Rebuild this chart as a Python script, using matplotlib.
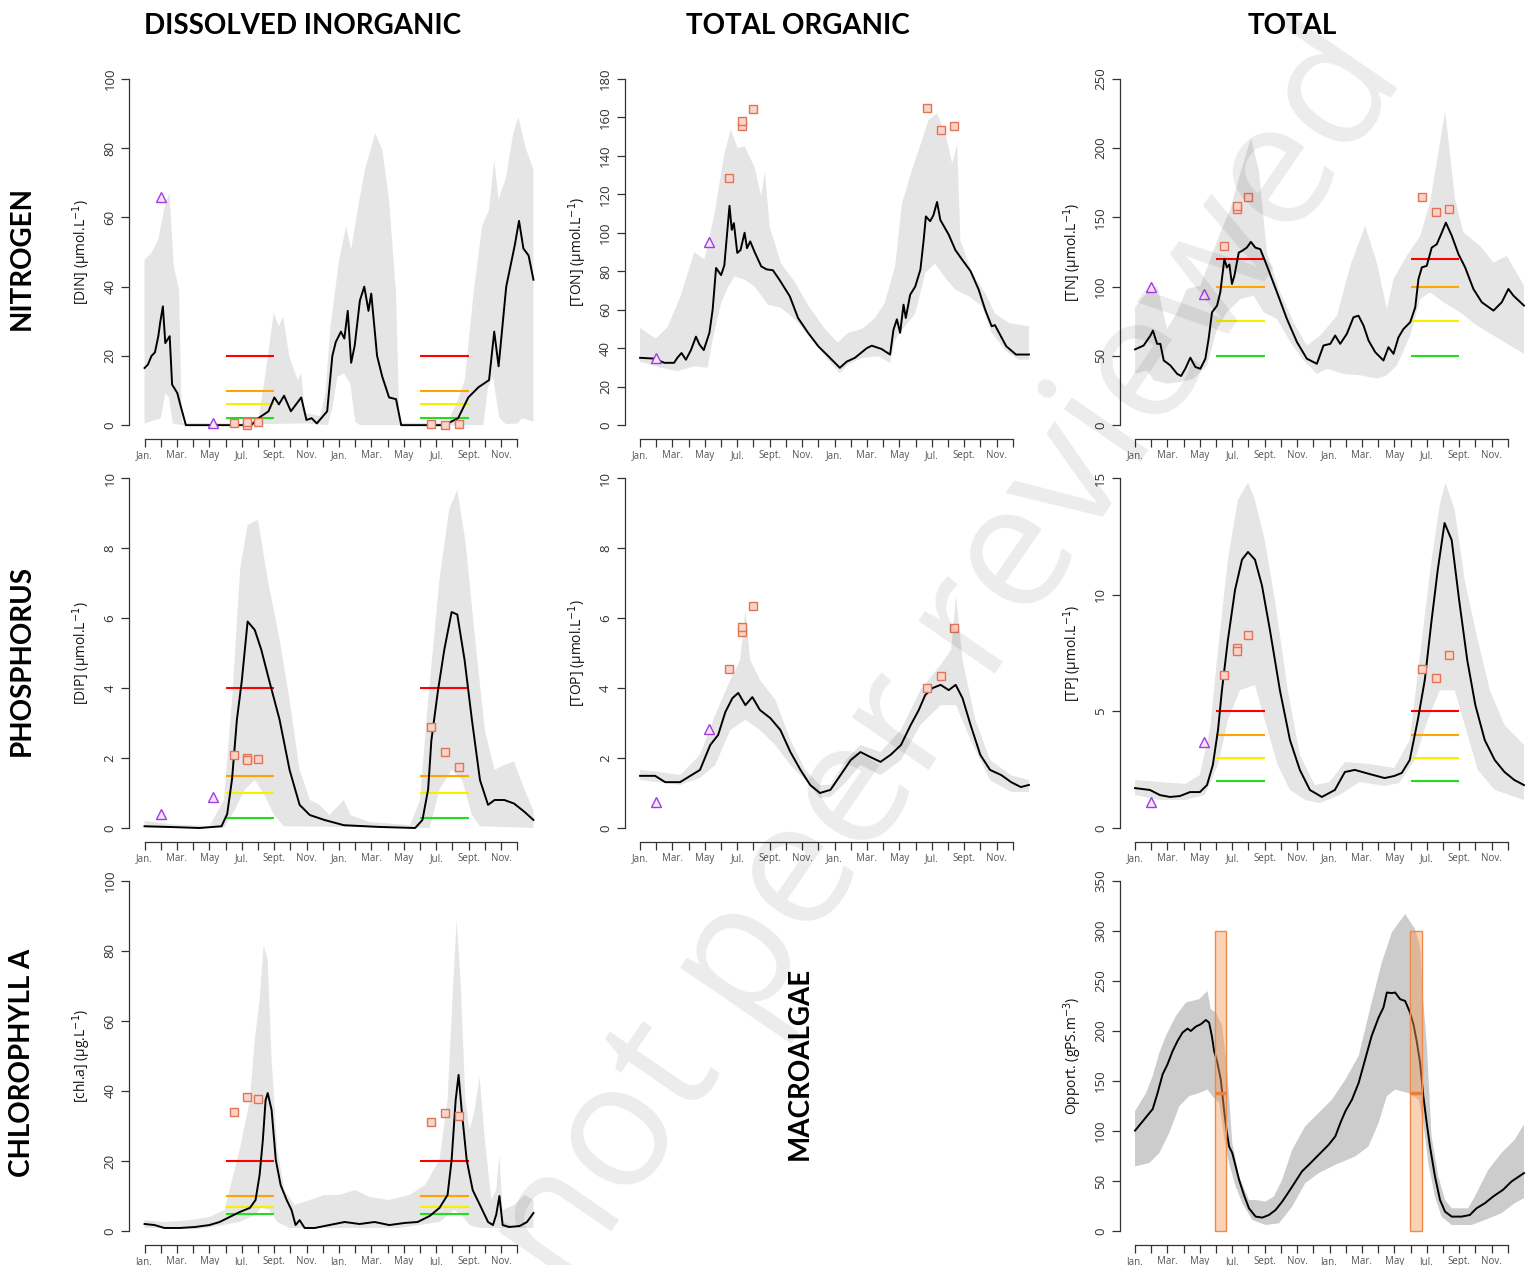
import numpy as np
import matplotlib.pyplot as plt
from matplotlib.patches import Rectangle

plt.rcParams['font.family'] = ['Open Sans', 'DejaVu Sans']

# x positions are in months from January of the first year (0 .. 24)
month_labels = ['Jan.', '', 'Mar.', '', 'May', '', 'Jul.', '', 'Sept.', '', 'Nov.', ''] * 2

# sampling campaigns (month, value)
# ---------------- DIN ----------------
din_med = [(0, 16.5), (0.21, 17.5), (0.43, 20), (0.64, 21), (0.85, 25.7), (0.96, 29.5), (1.13, 34.3),
           (1.28, 23.7), (1.55, 25.7), (1.7, 11.7), (2.02, 9.3), (2.23, 5.5), (2.55, 0), (6.59, 0),
           (7.02, 2), (7.65, 4), (8.01, 8), (8.29, 6), (8.61, 8.5), (9.03, 4), (9.67, 8), (9.99, 1.5),
           (10.31, 2), (10.63, 0.5), (11.27, 4), (11.59, 20), (11.8, 24), (12.12, 27), (12.33, 25),
           (12.54, 33), (12.75, 18), (12.97, 23), (13.29, 36), (13.56, 40), (13.82, 33), (13.99, 38),
           (14.35, 20), (14.67, 14), (15.09, 8), (15.52, 7.5), (15.84, 0), (18.5, 0), (19.35, 2),
           (19.98, 8), (20.62, 11), (21.26, 13), (21.58, 27), (21.85, 17), (22.32, 40), (22.85, 52),
           (23.11, 59), (23.38, 51), (23.7, 49), (24.0, 42)]
din_up = [(0, 47.8), (0.43, 49.7), (0.85, 53.6), (1.28, 64), (1.53, 67), (1.81, 45.9), (2.13, 39),
          (2.3, 0.7), (5.95, 0.5), (7.02, 1.6), (7.44, 14), (7.97, 32.4), (8.29, 28.6), (8.55, 31.4),
          (8.93, 19.9), (9.46, 13), (9.67, 15), (9.89, 3.6), (10.84, 2.6), (11.16, 9.3), (11.48, 28.6),
          (12.01, 47.8), (12.44, 57.4), (12.75, 50.7), (13.18, 63), (13.6, 73.8), (14.24, 84.3),
          (14.67, 79.6), (15.09, 65), (15.52, 38), (15.73, 0.7), (18.71, 0.7), (19.35, 7.4),
          (19.77, 13.2), (20.3, 38), (20.83, 57.4), (21.26, 62.2), (21.58, 76.6), (21.85, 65),
          (22.32, 71.8), (22.75, 84.3), (23.07, 89), (23.5, 80.3), (24.0, 73.8)]
din_lo = [(0, 0.5), (1.0, 2), (1.28, 9.3), (1.5, 8), (1.75, 0.5), (2.3, 0), (7.0, 0.3), (9.9, 0.5),
          (11.3, 0), (11.6, 5), (11.9, 14), (12.3, 15), (12.7, 12), (13.0, 1), (13.3, 0), (20.9, 0),
          (21.2, 11), (21.5, 14), (21.9, 2), (22.3, 0.3), (23.0, 0.5), (23.3, 2), (24.0, 1)]
din_sq = [(5.5, 0.5), (6.3, 0), (6.3, 1), (7.0, 1), (17.7, 0.3), (18.55, 0), (19.4, 0.2)]
din_tri = [(1.0, 66), (4.25, 0.5)]
din_thr = [20, 10, 6, 2]

# ---------------- TON ----------------
ton_med = [(0, 35), (0.87, 34.6), (1.5, 32.4), (2.1, 32.4), (2.3, 35), (2.56, 37.5), (2.83, 34),
           (3.14, 39), (3.45, 46), (3.66, 42), (3.93, 39), (4.28, 48), (4.48, 60), (4.69, 81.7),
           (5.0, 78), (5.2, 83), (5.52, 114), (5.66, 101.5), (5.79, 105), (6.0, 89.5), (6.2, 91),
           (6.45, 100), (6.6, 92), (6.8, 95.5), (7.07, 90), (7.48, 82.5), (7.8, 81), (8.2, 80.5),
           (8.6, 75.6), (9.24, 67), (9.75, 55.7), (10.37, 48), (11.0, 41), (11.6, 36), (12.33, 29.8),
           (12.75, 33), (13.26, 35), (13.99, 40), (14.3, 41.3), (14.9, 39.6), (15.43, 36.7),
           (15.64, 49.6), (15.85, 55), (16.05, 48), (16.26, 62.6), (16.4, 55.7), (16.67, 67.8),
           (16.98, 72), (17.3, 80.8), (17.5, 96), (17.64, 108.5), (17.9, 106), (18.1, 109),
           (18.33, 116), (18.53, 106.7), (19.05, 99), (19.46, 91), (19.88, 86), (20.4, 80),
           (20.9, 70.4), (21.3, 60), (21.7, 51.4), (21.9, 52), (22.6, 41), (23.2, 36.7), (24.0, 36.7)]
ton_up = [(0, 50.5), (0.97, 45), (1.7, 51), (2.5, 67), (3.35, 90), (3.97, 86), (4.6, 110), (5.2, 141),
          (5.6, 153.5), (6.03, 144), (6.45, 145), (7.07, 134), (7.48, 119), (7.7, 132), (8.0, 103),
          (8.7, 84), (9.5, 75), (10.4, 62), (11.4, 50), (12.2, 43), (12.85, 48), (13.7, 50),
          (14.5, 55.7), (15.1, 63.5), (15.74, 82.5), (16.16, 115), (16.78, 132.7), (17.4, 148),
          (17.8, 158.7), (18.33, 162), (18.84, 151.7), (19.26, 136), (19.57, 145.7), (19.77, 96),
          (20.5, 79), (21.3, 68.7), (21.9, 58), (22.8, 53), (24.0, 51.4)]
ton_lo = [(0, 33), (1.28, 29.8), (2.3, 28), (3.35, 30.6), (4.17, 29.8), (4.48, 44.5), (5.0, 63.5),
          (5.4, 71.3), (5.83, 77.3), (6.45, 75.6), (7.07, 72), (7.9, 62.6), (8.7, 61), (9.55, 55),
          (10.6, 44.5), (11.6, 34), (12.33, 27), (12.85, 31.5), (13.7, 35), (14.7, 35.8),
          (15.43, 32.4), (15.74, 44.5), (16.36, 51.4), (16.98, 58), (17.6, 79), (18.2, 84),
          (18.84, 76.5), (19.46, 70.4), (20.3, 67), (21.1, 61.8), (21.7, 48), (22.6, 38.4),
          (23.4, 34), (24.0, 34)]
ton_sq = [(5.48, 128.4), (6.3, 155.7), (6.3, 158), (7.0, 164.5), (17.7, 164.7), (18.55, 153.6),
          (19.4, 155.7)]
ton_tri = [(1.0, 35), (4.24, 95)]

# ---------------- TN ----------------
tn_med = [(0, 54.7), (0.53, 57.5), (0.95, 64.7), (1.1, 68.3), (1.36, 58.7), (1.56, 58.7), (1.77, 46.7),
          (2.18, 43.1), (2.6, 37), (2.84, 35.5), (3.1, 40.7), (3.41, 48.7), (3.72, 42), (4.03, 40.7),
          (4.34, 48), (4.54, 62.3), (4.75, 81.5), (5.06, 86.3), (5.26, 95.9), (5.51, 119.8),
          (5.67, 113.9), (5.82, 116), (5.98, 101.9), (6.13, 107.9), (6.4, 124.6), (6.6, 125.8),
          (6.9, 128.2), (7.15, 132.3), (7.42, 128.2), (7.73, 127), (8.14, 115), (8.76, 95.9),
          (9.37, 76.7), (9.99, 60), (10.6, 48), (11.22, 44.3), (11.63, 57.5), (12.05, 58.7),
          (12.35, 64.7), (12.66, 58.7), (13.07, 65.9), (13.48, 77.9), (13.79, 79), (14.1, 71.9),
          (14.41, 61.1), (14.82, 52.7), (15.33, 46.7), (15.64, 56.3), (15.95, 51.5), (16.26, 63.5),
          (16.57, 69.5), (16.98, 74.3), (17.29, 85), (17.49, 105.5), (17.7, 113.9), (18.0, 115),
          (18.31, 128.2), (18.62, 130.6), (18.93, 139), (19.18, 146.2), (19.55, 136.6),
          (19.96, 123.4), (20.37, 113.9), (20.88, 98.3), (21.4, 88.7), (22.12, 82.7), (22.63, 88.7),
          (23.04, 98.3), (23.35, 93.5), (24.0, 86.3)]
tn_up = [(0, 85), (0.74, 95.9), (1.36, 100.7), (1.97, 69.5), (2.6, 81.5), (3.2, 98.3), (4.03, 100.7),
         (4.65, 119.8), (5.26, 139), (5.88, 155.8), (6.5, 182), (7.15, 207), (7.63, 184.6),
         (8.14, 124.6), (8.96, 95.9), (9.78, 74.3), (10.6, 57.5), (11.43, 64.7), (12.46, 79),
         (13.28, 115), (14.2, 143.8), (14.92, 117.4), (15.54, 83.9), (15.95, 105.5), (16.77, 122.2),
         (17.6, 136.6), (18.2, 160.6), (19.14, 226.5), (19.75, 163), (20.27, 139), (21.3, 129.4),
         (22.12, 117.4), (22.94, 122.2), (24.0, 100.7)]
tn_lo = [(0, 37), (0.74, 39.5), (1.15, 32.4), (1.97, 30), (2.8, 31.2), (3.62, 33.6), (4.44, 43.1),
         (5.06, 69.5), (5.67, 81.5), (6.5, 91), (7.32, 93.5), (7.93, 81.5), (8.76, 76.7), (9.58, 60),
         (10.4, 46.7), (11.22, 37), (11.84, 40.7), (12.87, 37), (13.9, 36), (14.92, 33.6),
         (15.54, 36), (16.16, 43.1), (16.98, 64.7), (17.6, 91), (18.2, 95.9), (19.04, 88.7),
         (20.06, 81.5), (21.1, 71.9), (22.12, 64.7), (23.15, 57.5), (24.0, 51.5)]
tn_sq = [(5.5, 129), (6.3, 156), (6.3, 158), (7.0, 165), (17.7, 165), (18.55, 154), (19.4, 156)]
tn_tri = [(1.0, 100), (4.25, 95)]
tn_thr = [120, 100, 75, 50]

# ---------------- DIP ----------------
dip_med = [(0, 0.05), (1.5, 0.03), (3.4, 0), (4.75, 0.05), (5.1, 0.4), (5.4, 1.4), (5.7, 3.1),
           (6.0, 4.2), (6.36, 5.9), (6.8, 5.66), (7.2, 5.1), (7.7, 4.2), (8.33, 3.1), (8.95, 1.66),
           (9.57, 0.66), (10.2, 0.37), (11.1, 0.23), (12.3, 0.08), (14.5, 0.03), (16.7, 0),
           (17.15, 0.23), (17.5, 1.1), (17.7, 2.5), (18.1, 3.9), (18.5, 5.1), (18.95, 6.17),
           (19.3, 6.1), (19.75, 4.8), (20.2, 3.1), (20.7, 1.37), (21.2, 0.66), (21.6, 0.8),
           (22.2, 0.8), (22.8, 0.7), (23.45, 0.46), (24.0, 0.23)]
dip_up = [(0, 0.2), (0.9, 0.15), (1.8, 0.1), (4.0, 0.05), (4.9, 0.8), (5.4, 3.66), (5.9, 7.4),
          (6.36, 8.66), (7.0, 8.8), (7.6, 7.1), (8.33, 5.4), (8.95, 3.66), (9.57, 1.66), (10.2, 0.8),
          (10.8, 0.66), (11.4, 0.37), (12.3, 0.8), (12.7, 0.37), (13.9, 0.17), (16.4, 0.08),
          (17.0, 0.8), (17.5, 3.66), (18.2, 7.1), (18.8, 9.1), (19.3, 9.66), (19.8, 8.2), (20.4, 5.4),
          (21.0, 2.8), (21.6, 1.66), (22.2, 1.8), (22.8, 1.9), (23.45, 1.1), (24.0, 0.5)]
dip_lo = [(0, 0), (4.9, 0), (5.55, 0.5), (6.2, 1.1), (6.8, 1.37), (7.4, 0.94), (8.0, 0.37), (8.6, 0.05),
          (17.6, 0), (18.2, 1.1), (18.95, 1.66), (19.6, 1.37), (20.2, 0.37), (20.7, 0.05), (24.0, 0)]
dip_sq = [(5.5, 2.08), (6.3, 2.0), (6.3, 1.94), (7.0, 1.97), (17.7, 2.88), (18.55, 2.17), (19.4, 1.74)]
dip_tri = [(1.0, 0.4), (4.25, 0.88)]
dip_thr = [4, 1.5, 1, 0.3]

# ---------------- TOP ----------------
top_med = [(0, 1.49), (0.93, 1.49), (1.55, 1.31), (2.47, 1.31), (3.1, 1.49), (3.7, 1.66), (4.33, 2.37),
           (4.82, 2.66), (5.26, 3.31), (5.7, 3.71), (6.06, 3.86), (6.5, 3.51), (6.93, 3.74),
           (7.4, 3.37), (8.04, 3.14), (8.66, 2.8), (9.28, 2.17), (9.9, 1.66), (10.5, 1.23),
           (11.1, 1.0), (11.75, 1.09), (12.37, 1.51), (13.0, 1.94), (13.6, 2.17), (14.2, 2.03),
           (14.84, 1.89), (15.46, 2.09), (16.1, 2.37), (16.7, 2.94), (17.2, 3.37), (17.6, 3.8),
           (18.06, 4.0), (18.55, 4.09), (19.05, 3.94), (19.48, 4.09), (19.9, 3.71), (20.4, 2.94),
           (21.0, 2.09), (21.6, 1.66), (22.3, 1.51), (22.9, 1.31), (23.5, 1.17), (24.0, 1.23)]
top_up = [(0, 1.66), (1.24, 1.6), (2.47, 1.51), (3.7, 2.09), (4.64, 3.23), (5.57, 4.23), (6.18, 4.8),
          (6.5, 6.23), (6.8, 4.8), (7.4, 4.23), (8.35, 3.66), (9.28, 2.51), (10.2, 1.66), (11.1, 1.23),
          (11.75, 1.23), (12.7, 1.94), (13.6, 2.37), (14.84, 2.17), (16.1, 2.8), (17.3, 3.94),
          (18.55, 4.66), (19.2, 5.09), (19.5, 6.66), (19.9, 4.8), (20.7, 3.09), (21.6, 1.94),
          (22.9, 1.51), (24.0, 1.37)]
top_lo = [(0, 1.37), (2.47, 1.23), (3.7, 1.43), (4.64, 1.8), (5.57, 2.8), (6.5, 3.09), (7.4, 2.8),
          (8.35, 2.37), (9.28, 1.8), (10.2, 1.37), (11.1, 0.86), (11.75, 0.89), (12.7, 1.31),
          (13.6, 1.8), (14.84, 1.51), (16.1, 1.94), (17.3, 2.94), (18.55, 3.51), (19.5, 3.51),
          (20.4, 2.51), (21.6, 1.37), (22.9, 1.03), (24.0, 1.03)]
top_sq = [(5.5, 4.54), (6.3, 5.6), (6.3, 5.75), (7.0, 6.34), (17.7, 4.0), (18.55, 4.34), (19.4, 5.71)]
top_tri = [(1.0, 0.74), (4.25, 2.83)]

# ---------------- TP ----------------
tp_med = [(0, 1.71), (0.92, 1.63), (1.54, 1.41), (2.16, 1.33), (2.77, 1.37), (3.39, 1.54), (4.0, 1.54),
          (4.44, 1.84), (4.8, 2.7), (5.12, 4.2), (5.36, 5.9), (5.73, 8.06), (6.17, 10.2), (6.6, 11.5),
          (6.97, 11.83), (7.4, 11.5), (7.83, 10.4), (8.32, 8.5), (8.94, 5.9), (9.56, 3.77),
          (10.17, 2.49), (10.79, 1.63), (11.53, 1.33), (12.33, 1.63), (12.95, 2.4), (13.56, 2.49),
          (14.49, 2.31), (15.4, 2.14), (16.0, 2.23), (16.46, 2.36), (16.95, 2.91), (17.45, 4.63),
          (17.88, 6.34), (18.3, 8.9), (18.68, 11.06), (19.1, 13.07), (19.54, 12.34), (20.0, 9.77),
          (20.5, 7.2), (21.0, 5.27), (21.58, 3.77), (22.2, 2.91), (22.8, 2.4), (23.4, 2.06), (24.0, 1.84)]
tp_up = [(0, 2.06), (1.54, 1.97), (3.1, 1.89), (4.0, 2.27), (4.62, 4.2), (5.12, 7.63), (5.73, 11.5),
         (6.35, 14.06), (6.97, 14.8), (7.4, 14.06), (8.0, 12.34), (8.63, 9.77), (9.43, 5.9),
         (10.17, 3.13), (11.1, 1.84), (12.0, 1.97), (12.95, 2.83), (14.49, 2.74), (16.0, 2.57),
         (16.95, 3.77), (17.7, 8.06), (18.3, 11.5), (18.8, 13.84), (19.16, 14.8), (19.73, 13.63),
         (20.35, 10.6), (21.15, 8.06), (21.9, 5.9), (22.8, 4.41), (24.0, 3.56)]
tp_lo = [(0, 1.41), (1.54, 1.2), (3.1, 1.2), (4.3, 1.41), (5.12, 2.7), (5.73, 4.63), (6.47, 5.9),
         (7.4, 6.13), (8.0, 4.63), (8.8, 2.7), (9.56, 1.63), (10.5, 1.2), (11.4, 1.07), (12.6, 1.41),
         (13.87, 1.97), (15.4, 1.8), (16.3, 1.93), (17.26, 2.91), (18.06, 4.63), (18.8, 5.9),
         (19.73, 5.9), (20.35, 4.41), (21.15, 2.49), (22.2, 1.63), (24.0, 1.2)]
tp_sq = [(5.5, 6.56), (6.3, 7.7), (6.3, 7.6), (7.0, 8.27), (17.7, 6.8), (18.55, 6.43), (19.4, 7.4)]
tp_tri = [(1.0, 1.1), (4.25, 3.69)]
tp_thr = [5, 4, 3, 2]

# ---------------- Chlorophyll a ----------------
chl_med = [(0, 2), (0.62, 1.7), (1.23, 0.86), (2.16, 0.86), (3.1, 1.14), (4.0, 1.7), (4.63, 2.57),
           (5.12, 3.7), (5.86, 5.4), (6.5, 6.6), (6.85, 8.86), (7.1, 16), (7.3, 26), (7.47, 37.4),
           (7.6, 39.4), (7.84, 34.6), (8.1, 20.3), (8.4, 13.1), (8.77, 8.86), (9.07, 6), (9.32, 1.7),
           (9.57, 3.1), (9.88, 0.86), (10.5, 0.86), (11.4, 1.7), (12.35, 2.57), (13.27, 2),
           (14.2, 2.57), (15.1, 1.7), (16.05, 2.3), (16.85, 2.57), (17.6, 4.3), (18.2, 6.6),
           (18.7, 10.3), (18.95, 20.3), (19.2, 37.4), (19.38, 44.6), (19.57, 34.6), (19.88, 20.3),
           (20.25, 11.7), (20.7, 7.4), (21.2, 2.57), (21.5, 1.7), (21.7, 4.6), (21.9, 10), (22.1, 1.7),
           (22.5, 1.14), (23.15, 1.43), (23.6, 2.57), (24.0, 5.14)]
chl_up = [(0, 3.1), (1.23, 2.57), (2.8, 3.1), (4.0, 4), (4.94, 6), (5.86, 23), (6.5, 37.4), (6.8, 54.6),
          (7.1, 66), (7.35, 81.7), (7.6, 77.4), (7.84, 48.9), (8.2, 23), (8.64, 11.7), (9.26, 7.4),
          (10.2, 8.86), (11.1, 10.3), (12.0, 10.3), (13.0, 11.7), (13.9, 9.7), (15.1, 8.86),
          (16.36, 10.3), (17.3, 13.1), (18.2, 20.3), (18.7, 37.4), (19.0, 66), (19.26, 88.9),
          (19.5, 71.7), (19.8, 37.4), (20.06, 28.9), (20.37, 34.6), (20.68, 44), (21.0, 26),
          (21.4, 8.86), (21.7, 11.7), (21.9, 21.7), (22.1, 6), (22.8, 7.4), (23.45, 10.3), (24.0, 8.86)]
chl_lo = [(0, 0.86), (3.4, 0.57), (5.86, 2.57), (6.8, 4.6), (7.2, 6.6), (7.7, 6), (8.2, 2.57),
          (8.95, 0.86), (15.7, 0.86), (18.2, 2.57), (19.1, 6), (19.57, 4.6), (20.06, 1.7), (20.7, 0.86),
          (24.0, 0.86)]
chl_sq = [(5.5, 34), (6.3, 38.3), (7.0, 37.6), (17.7, 31.1), (18.55, 33.7), (19.4, 32.9)]
chl_thr = [20, 10, 7, 5]

# ---------------- Opportunistic macroalgae ----------------
mac_med = [(0, 100.4), (0.47, 109.7), (1.09, 122), (1.39, 138), (1.7, 156.6), (2.0, 166.6), (2.32, 180),
           (2.62, 190), (2.93, 198.4), (3.24, 202.4), (3.44, 200), (3.75, 204.4), (4.06, 206.8),
           (4.37, 211), (4.57, 208.4), (4.74, 195), (4.88, 180), (5.08, 168.3), (5.29, 151.5),
           (5.49, 121.4), (5.64, 101.4), (5.8, 84.6), (6.0, 78), (6.21, 64.6), (6.42, 51.2),
           (6.72, 36.1), (7.03, 22.7), (7.44, 14.4), (7.85, 13.4), (8.26, 16), (8.67, 21), (9.08, 29.4),
           (9.5, 39.5), (9.9, 49.5), (10.3, 59.6), (10.72, 66.2), (11.13, 72.9), (11.54, 79.6),
           (11.95, 86.3), (12.36, 94.7), (12.67, 108), (12.98, 119.8), (13.39, 131.5), (13.8, 148.2),
           (14.2, 171.6), (14.6, 195), (15.03, 213.5), (15.33, 223.5), (15.54, 238.5), (15.85, 237.9),
           (16.05, 238.5), (16.36, 231.8), (16.67, 230), (16.97, 218.5), (17.18, 206.8), (17.38, 190),
           (17.59, 168.3), (17.79, 134.8), (18.0, 108), (18.2, 84.6), (18.51, 54.5), (18.82, 31.1),
           (19.13, 19.4), (19.54, 14.4), (20.15, 14.4), (20.66, 16), (21.07, 22.7), (21.59, 27.8),
           (22.1, 34.5), (22.71, 41.2), (23.23, 49.5), (24.0, 57.9)]
mac_up = [(0, 119.8), (0.68, 138), (1.09, 155), (1.5, 178.3), (1.9, 195), (2.52, 215), (3.14, 228.5),
          (3.96, 231.8), (4.47, 240), (4.67, 221.8), (4.98, 218.5), (5.39, 205), (5.7, 158), (6.0, 88),
          (6.42, 54.5), (7.03, 31), (7.44, 31), (8.06, 29.4), (8.57, 34.5), (9.08, 51.2), (9.7, 81.3),
          (10.5, 104.7), (11.54, 121.4), (12.16, 131.5), (12.98, 151.5), (13.8, 175), (14.6, 228.5),
          (15.23, 268.6), (15.85, 298.7), (16.67, 317), (17.28, 302), (17.59, 285.4), (17.79, 228.5),
          (18.0, 188.4), (18.3, 94.7), (18.72, 54.5), (19.13, 31), (19.54, 22.7), (20.56, 22.7),
          (20.97, 34.5), (21.8, 61.2), (22.61, 78), (23.43, 91.3), (24.0, 106.4)]
mac_lo = [(0, 64.6), (0.88, 68), (1.5, 78), (2.11, 98), (2.73, 124.8), (3.34, 134.8), (3.96, 138),
          (4.47, 141.5), (4.78, 134.8), (5.19, 128), (5.49, 94.7), (5.8, 68), (6.21, 44.5), (6.62, 27.8),
          (7.24, 11), (8.06, 6), (8.88, 7.7), (9.7, 24.4), (10.5, 47.8), (11.34, 57.9), (12.36, 66.2),
          (13.59, 74.6), (14.41, 84.6), (15.03, 108), (15.54, 134.8), (16.05, 141.5), (16.87, 138),
          (17.49, 131.5), (17.79, 108), (18.1, 68), (18.51, 34.5), (18.92, 14.4), (19.54, 6),
          (20.77, 6), (21.59, 11), (22.61, 17.7), (23.43, 27.8), (24.0, 32.8)]
mac_bar_start = [4.92, 16.97]
mac_bar_end = [5.64, 17.73]
mac_bar_top = 300
mac_bar_mid = 138

thr_colors = ['#ff0000', '#ffa500', '#f5f000', '#22dd22']
thr_span = [(5, 8), (17, 20)]

W, H = 1526, 1265
fig = plt.figure(figsize=(W / 100, H / 100), dpi=100)

col_left = [129, 624.5, 1119.5]
row_top = [65, 464, 867]
row_bot = [439, 842, 1245]
ax_w = 420


def make_ax(r, c):
    return fig.add_axes([col_left[c] / W, 1 - row_bot[r] / H, ax_w / W, (row_bot[r] - row_top[r]) / H])


def style_axes(ax, ymax, ystep, ylabel):
    ax.set_xlim(-0.96, 24.96)
    ax.set_ylim(-0.04 * ymax, 1.04 * ymax)
    for s in ('top', 'right'):
        ax.spines[s].set_visible(False)
    for s in ('left', 'bottom'):
        ax.spines[s].set_color('#333333')
        ax.spines[s].set_linewidth(0.9)
    ax.spines['left'].set_bounds(0, ymax)
    ax.spines['bottom'].set_bounds(0, 23)
    ax.set_xticks(np.arange(24))
    ax.set_xticklabels(month_labels)
    ax.set_yticks(np.arange(0, ymax + 1e-9, ystep))
    ax.tick_params(direction='out', length=6, width=0.9, color='#333333')
    ax.tick_params(axis='x', labelsize=7, labelcolor='#555555', pad=2)
    ax.tick_params(axis='y', labelsize=9.5, labelcolor='#333333', labelrotation=90, pad=3)
    for t in ax.get_yticklabels():
        t.set_va('center')
    ax.set_ylabel(ylabel, fontsize=10, color='#111111')
    ax.yaxis.set_label_coords(-0.085, 0.5)


def panel(ax, med, up, lo, ymax, ystep, ylabel, thr=None, sq=None, tri=None, band='#e5e5e5'):
    xu, yu = np.array(up).T
    xl, yl = np.array(lo).T
    ax.fill(np.r_[xu, xl[::-1]], np.r_[yu, yl[::-1]], color=band, lw=0, zorder=1)
    if thr:
        for v, col in zip(thr, thr_colors):
            for a, b in thr_span:
                ax.hlines(v, a, b, color=col, lw=1.5, zorder=2)
    xm, ym = np.array(med).T
    ax.plot(xm, ym, color='black', lw=1.4, zorder=3)
    if sq:
        xs, ys = np.array(sq).T
        ax.plot(xs, ys, 's', ms=5.5, mfc='#fbd3c8', mec='#e07458', mew=1, zorder=4)
    if tri:
        xt, yt = np.array(tri).T
        ax.plot(xt, yt, '^', ms=7, mfc='#f4e6fb', mec='#a43be0', mew=1, zorder=4)
    style_axes(ax, ymax, ystep, ylabel)


unit = ' (µmol.L$^{-1}$)'
panel(make_ax(0, 0), din_med, din_up, din_lo, 100, 20, '[DIN]' + unit, din_thr, din_sq, din_tri)
panel(make_ax(0, 1), ton_med, ton_up, ton_lo, 180, 20, '[TON]' + unit, None, ton_sq, ton_tri)
panel(make_ax(0, 2), tn_med, tn_up, tn_lo, 250, 50, '[TN]' + unit, tn_thr, tn_sq, tn_tri)
panel(make_ax(1, 0), dip_med, dip_up, dip_lo, 10, 2, '[DIP]' + unit, dip_thr, dip_sq, dip_tri)
panel(make_ax(1, 1), top_med, top_up, top_lo, 10, 2, '[TOP]' + unit, None, top_sq, top_tri)
panel(make_ax(1, 2), tp_med, tp_up, tp_lo, 15, 5, '[TP]' + unit, tp_thr, tp_sq, tp_tri)
panel(make_ax(2, 0), chl_med, chl_up, chl_lo, 100, 20, '[chl.a] (µg.L$^{-1}$)', chl_thr, chl_sq)

ax_mac = make_ax(2, 2)
panel(ax_mac, mac_med, mac_up, mac_lo, 350, 50, 'Opport. (gPS.m$^{-3}$)', band='#cccccc')
for a, b in zip(mac_bar_start, mac_bar_end):
    ax_mac.add_patch(Rectangle((a, 0), b - a, mac_bar_top, facecolor=(0.96, 0.62, 0.38, 0.45),
                               edgecolor='#f08a4b', lw=1, zorder=5))
    ax_mac.hlines(mac_bar_mid, a, b, color='#e8803a', lw=2.5, zorder=6)

# headers
head_font = ['Lato', 'DejaVu Sans']
for x, s in [(303, 'DISSOLVED INORGANIC'), (798, 'TOTAL ORGANIC'), (1292, 'TOTAL')]:
    fig.text(x / W, 1 - 26 / H, s, ha='center', va='center', fontsize=20, fontweight='bold',
             family=head_font)
for y, s in [(258, 'NITROGEN'), (660, 'PHOSPHORUS'), (1063, 'CHLOROPHYLL A')]:
    fig.text(22 / W, 1 - y / H, s, ha='center', va='center', rotation=90, fontsize=20,
             fontweight='bold', family=head_font)
fig.text(800 / W, 1 - 1063 / H, 'MACROALGAE', ha='center', va='center', rotation=90, fontsize=20,
         fontweight='bold', family=head_font)

# diagonal watermark
fig.text(950 / W, 1 - 660 / H, 'not peer reviewed', ha='center', va='center', rotation=55.5,
         rotation_mode='anchor', fontsize=126, color='black', alpha=0.08, zorder=100)

fig.savefig('out.png', dpi=100)
